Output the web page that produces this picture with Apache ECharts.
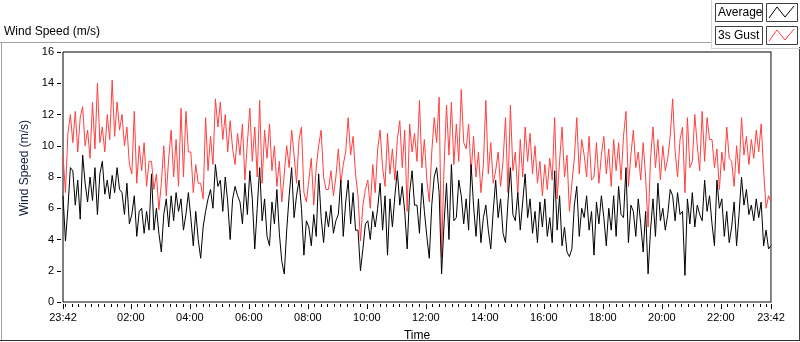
<!DOCTYPE html>
<html>
<head>
<meta charset="utf-8">
<title>Wind Speed (m/s)</title>
<script src="https://cdn.jsdelivr.net/npm/echarts@6/dist/echarts.min.js"></script>
<style>
  html, body { margin: 0; padding: 0; background: #fff; }
  #main { width: 800px; height: 342px; }
</style>
</head>
<body>
<div id="main"></div>
<script>
// time axis in minutes from midnight; the record starts 23:42 the day before
var startMinute = -18;
var stepMinute = 5;
var endMinute = 1422;

var tickMinutes = [-18, 120, 240, 360, 480, 600, 720, 840, 960, 1080, 1200, 1320, 1422];
var tickLabels = ['23:42', '02:00', '04:00', '06:00', '08:00', '10:00', '12:00',
                  '14:00', '16:00', '18:00', '20:00', '22:00', '23:42'];

// 3s gust, one value every 5 minutes
var gust = [
  9.4, 7.0, 10.8, 12.0, 10.2, 12.2, 9.6, 11.8,
  12.5, 10.0, 11.0, 9.2, 12.8, 9.8, 14.0, 10.2,
  11.2, 9.6, 12.0, 10.4, 14.2, 10.6, 12.8, 11.0,
  12.0, 10.0, 11.2, 8.8, 8.2, 12.2, 7.6, 10.0,
  8.4, 10.2, 7.4, 9.0, 9.0, 7.2, 8.2, 5.9,
  7.6, 10.0, 6.8, 9.2, 11.0, 8.0, 10.4, 7.4,
  12.4, 8.0, 12.2, 9.6, 9.6, 7.0, 8.8, 7.6,
  7.6, 6.6, 11.8, 8.4, 10.6, 8.8, 13.0, 11.2,
  12.8, 10.4, 12.0, 9.6, 11.6, 9.8, 8.8, 10.8,
  9.4, 11.4, 7.8, 10.2, 12.4, 9.0, 11.2, 8.0,
  12.9, 7.6, 11.0, 9.2, 11.4, 8.4, 10.0, 7.4,
  9.0, 6.4, 8.2, 10.0, 8.6, 11.0, 9.4, 7.6,
  10.4, 11.2, 7.0, 6.4, 7.8, 9.2, 6.2, 8.6,
  10.0, 11.0, 8.0, 7.2, 7.2, 8.4, 6.8, 8.0,
  9.8, 7.6, 8.8, 9.6, 11.8, 9.4, 10.6, 8.2,
  6.8, 3.9, 6.2, 7.2, 7.8, 6.0, 8.8, 7.0,
  9.8, 11.0, 8.6, 7.4, 10.8, 8.2, 9.8, 7.8,
  10.4, 11.6, 8.6, 11.0, 5.8, 11.4, 9.6, 10.8,
  9.0, 12.9, 8.6, 10.4, 7.8, 6.4, 9.6, 11.8,
  10.2, 13.1, 2.9, 8.6, 12.6, 9.4, 12.8, 8.8,
  11.4, 9.0, 13.6, 10.2, 9.8, 11.4, 8.2, 10.6,
  8.0, 9.6, 7.0, 8.8, 12.9, 8.2, 10.2, 7.6,
  8.4, 9.6, 7.4, 9.0, 11.8, 7.0, 12.6, 8.4,
  9.6, 6.8, 10.4, 8.0, 11.2, 9.0, 10.8, 8.2,
  10.0, 7.6, 9.0, 6.8, 8.8, 7.2, 9.2, 7.8,
  11.8, 6.6, 9.0, 11.2, 8.0, 9.4, 5.8, 7.6,
  9.2, 11.8, 8.2, 10.4, 9.4, 8.0, 10.6, 7.8,
  8.0, 10.2, 7.6, 9.4, 10.6, 8.2, 9.8, 7.4,
  10.4, 8.4, 10.2, 7.8, 10.6, 12.2, 7.4, 9.4,
  11.0, 8.6, 9.6, 7.8, 10.2, 8.0, 4.8, 9.2,
  11.2, 8.6, 10.4, 7.8, 10.0, 8.4, 9.2, 10.6,
  13.0, 9.6, 8.0, 10.4, 11.2, 7.0, 11.8, 8.6,
  9.0, 12.0, 10.0, 8.4, 12.2, 9.0, 11.8, 10.4,
  10.4, 8.6, 9.8, 7.2, 9.6, 8.4, 11.2, 9.2,
  9.0, 7.4, 10.0, 8.2, 11.8, 9.4, 10.6, 8.8,
  10.4, 9.2, 11.0, 9.6, 11.4, 8.4, 6.0, 6.8,
  6.4
];

// average wind speed, same time steps
var average = [
  6.8, 3.9, 6.0, 8.6, 8.4, 6.2, 7.8, 5.3,
  9.4, 7.6, 6.4, 8.0, 6.5, 8.6, 5.6, 8.2,
  9.0, 6.9, 7.8, 6.6, 8.1, 7.0, 8.6, 7.2,
  7.0, 5.6, 7.6, 5.0, 5.6, 6.8, 4.2, 5.8,
  6.0, 4.4, 5.8, 4.6, 8.2, 4.6, 6.0, 4.4,
  3.2, 5.6, 6.6, 4.8, 6.8, 5.2, 7.0, 5.8,
  6.6, 4.6, 5.6, 7.0, 5.4, 3.6, 5.8, 4.0,
  2.8, 4.8, 5.8, 6.6, 7.2, 6.0, 8.8, 7.4,
  7.8, 5.8, 8.0, 6.4, 4.0, 6.6, 7.4, 6.8,
  6.4, 5.0, 7.6, 5.6, 8.4, 6.6, 3.4, 6.0,
  8.6, 5.2, 6.6, 4.2, 3.6, 6.4, 5.0, 7.2,
  4.4, 2.6, 1.8, 4.6, 6.8, 8.6, 5.4, 6.8,
  7.8, 6.0, 3.0, 5.2, 4.8, 3.6, 5.6, 4.2,
  8.2, 5.4, 3.8, 5.8, 4.8, 6.2, 4.4, 5.2,
  5.6, 7.8, 4.2, 6.4, 7.8, 5.0, 7.0, 4.6,
  4.6, 2.0, 3.4, 5.0, 5.2, 4.0, 5.8, 4.8,
  6.0, 7.6, 4.6, 6.8, 3.0, 6.6, 4.8, 6.8,
  8.4, 6.2, 7.4, 5.8, 3.4, 7.0, 8.4, 6.2,
  6.2, 4.4, 7.6, 5.8, 4.2, 2.8, 6.2, 8.0,
  8.6, 7.0, 1.8, 5.0, 7.6, 4.0, 8.8, 5.2,
  5.4, 7.8, 6.8, 5.0, 6.6, 4.6, 8.8, 6.2,
  4.2, 6.6, 3.8, 5.4, 6.2, 4.6, 3.4, 5.8,
  7.8, 5.4, 6.6, 4.4, 3.8, 6.4, 8.6, 5.6,
  5.2, 7.0, 4.6, 6.4, 8.2, 5.4, 6.6, 4.4,
  5.8, 3.8, 6.4, 4.8, 6.6, 4.2, 5.4, 3.8,
  8.4, 4.6, 6.8, 3.6, 4.8, 3.2, 2.9, 3.4,
  6.2, 7.4, 4.2, 6.0, 5.4, 6.8, 4.6, 5.8,
  3.0, 6.4, 5.0, 6.8, 5.4, 3.6, 6.0, 4.6,
  6.8, 4.2, 7.4, 5.6, 5.4, 8.6, 3.8, 6.2,
  5.8, 4.2, 6.6, 5.0, 3.2, 5.8, 1.8, 4.6,
  6.6, 4.2, 7.6, 5.2, 6.0, 4.6, 5.6, 7.2,
  6.8, 5.2, 7.0, 5.6, 5.8, 1.7, 6.6, 5.0,
  7.0, 4.8, 6.2, 5.6, 5.2, 7.8, 5.8, 6.8,
  5.0, 3.6, 7.8, 6.0, 6.6, 4.2, 5.8, 3.8,
  4.8, 6.4, 3.6, 5.6, 8.0, 6.2, 7.2, 5.6,
  6.2, 5.2, 6.6, 5.4, 6.4, 3.6, 4.6, 3.4,
  3.6
];

var FONT = '"Liberation Sans", Arial, sans-serif';

function toPairs(values) {
  var out = [];
  for (var i = 0; i < values.length; i++) {
    out.push([startMinute + i * stepMinute, values[i]]);
  }
  return out;
}

// minor ticks every 2h / 9 counted from midnight
var minorTicks = [];
for (var k = -1; k * 40 / 3 <= endMinute; k++) {
  minorTicks.push(k * 40 / 3);
}

function tickLabel(v) {
  var i = tickMinutes.indexOf(v);
  return i >= 0 ? tickLabels[i] : '';
}

var myChart = echarts.init(document.getElementById('main'));

myChart.setOption({
  animation: false,
  backgroundColor: '#fff',
  title: {
    text: 'Wind Speed (m/s)',
    left: 4,
    top: 26,
    padding: 0,
    textStyle: { fontSize: 12, fontWeight: 'normal', color: '#000', fontFamily: FONT }
  },
  grid: {
    left: 63,
    top: 52,
    right: 29,
    bottom: 40,
    outerBoundsMode: 'none',
    show: true,
    borderColor: '#000',
    borderWidth: 1,
    backgroundColor: '#fff'
  },
  xAxis: [
    {
      type: 'value',
      min: startMinute,
      max: endMinute,
      axisLine: { show: true, onZero: false, lineStyle: { color: '#8c8c8c', width: 1 } },
      axisTick: { show: false },
      axisLabel: { show: false },
      splitLine: { show: false },
      name: 'Time',
      nameLocation: 'middle',
      nameGap: 28,
      nameTextStyle: { fontSize: 12, color: '#000', fontFamily: FONT }
    },
    {
      type: 'value',
      min: startMinute,
      max: endMinute,
      position: 'bottom',
      offset: 2,
      axisLine: { show: false, onZero: false },
      axisTick: { show: true, length: 5, customValues: tickMinutes, lineStyle: { color: '#000' } },
      axisLabel: {
        show: true,
        customValues: tickMinutes,
        formatter: tickLabel,
        margin: 8,
        fontSize: 11,
        color: '#000',
        fontFamily: FONT,
        hideOverlap: false
      },
      splitLine: { show: false }
    },
    {
      type: 'value',
      min: startMinute,
      max: endMinute,
      position: 'bottom',
      offset: 2,
      axisLine: { show: false, onZero: false },
      axisTick: { show: true, length: 3, customValues: minorTicks, lineStyle: { color: '#000' } },
      axisLabel: { show: false },
      splitLine: { show: false }
    }
  ],
  yAxis: [
    {
      type: 'value',
      min: 0,
      max: 16,
      interval: 2,
      offset: 2,
      axisLine: { show: false, onZero: false },
      axisTick: { show: true, length: 4, lineStyle: { color: '#000' } },
      axisLabel: { margin: 7, fontSize: 11, color: '#000', fontFamily: FONT },
      splitLine: { show: false },
      name: 'Wind Speed (m/s)',
      nameLocation: 'middle',
      nameGap: 22,
      nameTextStyle: { fontSize: 12, color: '#141c3c', fontFamily: FONT, padding: [0, 0, 0, 18] }
    },
    {
      type: 'value',
      min: 0,
      max: 16,
      position: 'right',
      axisLine: { show: true, onZero: false, lineStyle: { color: '#8c8c8c', width: 1 } },
      axisTick: { show: false },
      axisLabel: { show: false },
      splitLine: { show: false }
    }
  ],
  series: [
    {
      name: '3s Gust',
      type: 'line',
      data: toPairs(gust),
      showSymbol: false,
      symbol: 'none',
      lineStyle: { color: '#ff4040', width: 1 },
      itemStyle: { color: '#ff4040' }
    },
    {
      name: 'Average',
      type: 'line',
      data: toPairs(average),
      showSymbol: false,
      symbol: 'none',
      lineStyle: { color: '#000', width: 1 },
      itemStyle: { color: '#000' }
    }
  ],
  graphic: [
    // outer frame
    { type: 'line', shape: { x1: 0, y1: 42.5, x2: 711, y2: 42.5 }, style: { stroke: '#a0a0a0', lineWidth: 1 } },
    { type: 'line', shape: { x1: 1.5, y1: 42, x2: 1.5, y2: 341 }, style: { stroke: '#a0a0a0', lineWidth: 1 } },
    { type: 'line', shape: { x1: 0, y1: 340.5, x2: 800, y2: 340.5 }, style: { stroke: '#303030', lineWidth: 1 } },
    { type: 'line', shape: { x1: 799.5, y1: 47, x2: 799.5, y2: 341 }, style: { stroke: '#404040', lineWidth: 1 } },
    // legend panel
    { type: 'line', shape: { x1: 711.5, y1: 0, x2: 711.5, y2: 49 }, style: { stroke: '#d4d4d4', lineWidth: 1 } },
    { type: 'line', shape: { x1: 711, y1: 48.5, x2: 800, y2: 48.5 }, style: { stroke: '#d4d4d4', lineWidth: 1 } },
    { type: 'rect', shape: { x: 715.5, y: 3.5, width: 47, height: 18 }, style: { fill: '#fff', stroke: '#404040', lineWidth: 1 } },
    { type: 'text', style: { x: 718, y: 13, text: 'Average', font: '12px ' + FONT, fill: '#000', verticalAlign: 'middle', textVerticalAlign: 'middle' } },
    { type: 'rect', shape: { x: 766.5, y: 3.5, width: 31, height: 18 }, style: { fill: '#fff', stroke: '#404040', lineWidth: 1 } },
    { type: 'polyline', shape: { points: [[769, 18], [777, 7], [785, 17], [794, 6]] }, style: { stroke: '#000', fill: null, lineWidth: 1 } },
    { type: 'rect', shape: { x: 715.5, y: 26.5, width: 47, height: 18 }, style: { fill: '#fff', stroke: '#404040', lineWidth: 1 } },
    { type: 'text', style: { x: 718, y: 36, text: '3s Gust', font: '12px ' + FONT, fill: '#000', verticalAlign: 'middle', textVerticalAlign: 'middle' } },
    { type: 'rect', shape: { x: 766.5, y: 26.5, width: 31, height: 18 }, style: { fill: '#fff', stroke: '#404040', lineWidth: 1 } },
    { type: 'polyline', shape: { points: [[769, 41], [777, 30], [785, 40], [794, 29]] }, style: { stroke: '#ff4040', fill: null, lineWidth: 1 } }
  ]
});
</script>
</body>
</html>
